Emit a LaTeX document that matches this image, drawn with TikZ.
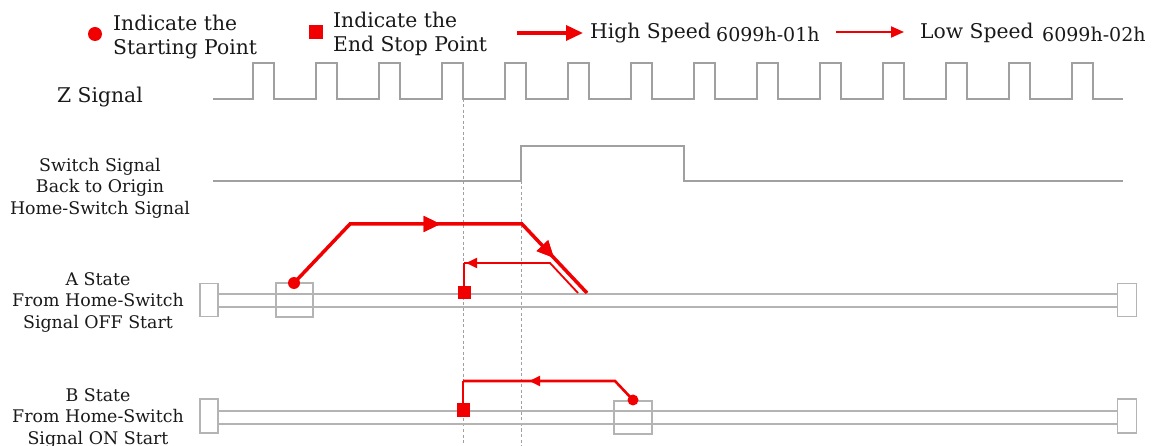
\documentclass[tikz,border=0pt]{standalone}
\usepackage{fontspec}
\setmainfont{DejaVu Serif}
\usetikzlibrary{arrows.meta,decorations.markings}
\definecolor{sig}{RGB}{160,160,160}
\definecolor{trk}{RGB}{180,180,180}
\definecolor{rd}{RGB}{240,0,0}
\definecolor{txt}{RGB}{25,25,25}
\begin{document}
\begin{tikzpicture}[x=1pt,y=-1pt,
  lbl/.style={font=\fontsize{17.4}{21.5}\selectfont, align=center, text=txt, inner sep=0},
  leg/.style={font=\fontsize{20.3}{24.5}\selectfont, align=left, text=txt, inner sep=0, anchor=west},
  code/.style={font=\fontsize{19}{22}\selectfont, text=txt, inner sep=0, anchor=west},
  sigline/.style={draw=sig, line width=1.1pt},
  trackline/.style={draw=trk, line width=1.3pt},
  tbox/.style={draw=trk, line width=1.3pt, fill=white, inner sep=0},
  vdash/.style={draw=sig, dash pattern=on 3pt off 2.5pt, line width=0.7pt},
  hi/.style={draw=rd, line width=3.5pt},
  lo/.style={draw=rd, line width=1.8pt},
  mid/.style={draw=rd, line width=2.6pt},
  startdot/.style={circle, fill=rd, inner sep=0, minimum size=#1},
  endsq/.style={rectangle, fill=rd, inner sep=0, minimum size=13pt},
  bigtip/.style={decoration={markings, mark=at position #1 with {\arrow{Triangle[length=17pt,width=15pt]}}}, postaction=decorate},
  smalltip/.style={decoration={markings, mark=at position #1 with {\arrow{Triangle[length=11pt,width=10pt]}}}, postaction=decorate}
]
\useasboundingbox (0,0) rectangle (1160,446);

% ---------- legend ----------
\node[startdot=14pt] (lgdot) at (95,34) {};
\node[leg] (lgdottxt) at (113,37) {Indicate the\\Starting Point};
\node[endsq, minimum size=14pt] (lgsq) at (316,32) {};
\node[leg] (lgsqtxt) at (333,34) {Indicate the\\End Stop Point};
\coordinate (lgha) at (517,33);
\coordinate (lghb) at (583,33);
\draw[hi, -{Triangle[length=17pt,width=15pt]}] (lgha) -- (lghb);
\node[leg] (lghtxt) at (590,33) {High Speed};
\node[code] (lghcode) at (716,34) {6099h-01h};
\coordinate (lgla) at (836,32);
\coordinate (lglb) at (904,32);
\draw[lo, -{Triangle[length=13pt,width=11pt]}] (lgla) -- (lglb);
\node[leg] (lgltxt) at (920,33) {Low Speed};
\node[code] (lglcode) at (1042,34) {6099h-02h};

% ---------- Z signal ----------
\node[leg, anchor=center] (zlbl) at (100,97) {Z Signal};
\draw[sigline] (213,99) foreach \k in {0,...,13} {
  -- ({253+63*\k},99) -- ({253+63*\k},63) -- ({274+63*\k},63) -- ({274+63*\k},99) } -- (1123,99);

% ---------- switch signal ----------
\node[lbl] (swlbl) at (100,188) {Switch Signal\\Back to Origin\\Home-Switch Signal};
\draw[sigline] (213,181) -- (521,181) -- (521,146) -- (684,146) -- (684,181) -- (1123,181);

% ---------- dashed guides ----------
\coordinate (g1t) at (463,99);
\coordinate (g1b) at (463,446);
\coordinate (g2t) at (521,181);
\coordinate (g2b) at (521,446);
\draw[vdash] (g1t) -- (g1b);
\draw[vdash] (g2t) -- (g2b);

% ---------- A state ----------
\node[lbl] (albl) at (98,302) {A State\\From Home-Switch\\Signal OFF Start};
\draw[trackline] (218,294) -- (1117,294);
\draw[trackline] (218,307) -- (1117,307);
\node[tbox, minimum width=18pt, minimum height=33pt] (aleft) at (209,300) {};
\node[tbox, minimum width=19pt, minimum height=33pt] (aright) at (1127,300) {};
\draw[draw=trk, line width=1.3pt] (276,283) rectangle (313,317);
\coordinate (ah1) at (350,224);
\coordinate (ah2) at (522,224);
\coordinate (ah3) at (587,293);
\coordinate (al0) at (578,293);
\coordinate (al1) at (550,263);
\coordinate (al2) at (464,263);
\node[endsq] (aend) at (464,293) {};
\node[startdot=12pt] (astart) at (294,283) {};
\draw[hi, line join=miter, bigtip=172pt, bigtip=300pt] (astart.center) -- (ah1) -- (ah2) -- (ah3);
\draw[lo, smalltip=125pt] (al0) -- (al1) -- (al2);
\draw[mid] (al2) -- (aend.center);

% ---------- B state ----------
\node[lbl] (blbl) at (98,418) {B State\\From Home-Switch\\Signal ON Start};
\draw[trackline] (218,411) -- (1117,411);
\draw[trackline] (218,424) -- (1117,424);
\node[tbox, minimum width=18pt, minimum height=34pt] (bleft) at (209,416) {};
\node[tbox, minimum width=19pt, minimum height=34pt] (bright) at (1127,416) {};
\draw[draw=trk, line width=1.3pt] (614,401) rectangle (652,434);
\coordinate (b1) at (615,381);
\coordinate (b2) at (463,381);
\node[endsq] (bend) at (463,410) {};
\node[startdot=11pt] (bstart) at (633,400) {};
\draw[mid, smalltip=112pt] (bstart.center) -- (b1) -- (b2);
\draw[mid] (b2) -- (bend.center);
\end{tikzpicture}
\end{document}
